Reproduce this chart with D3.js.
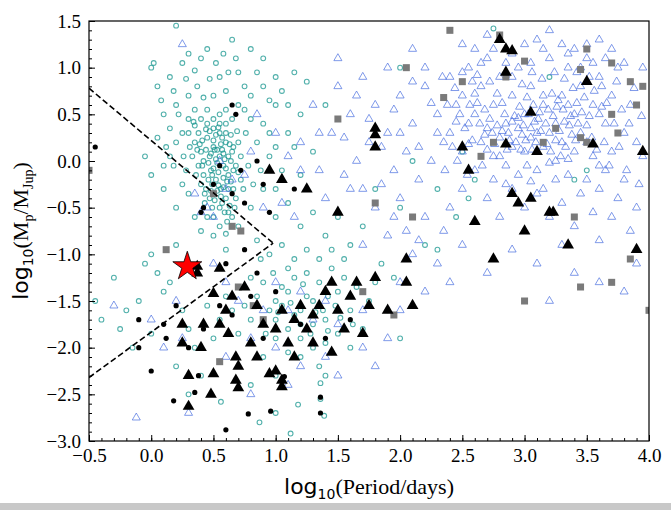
<!DOCTYPE html>
<html><head><meta charset="utf-8">
<script src="https://cdn.jsdelivr.net/npm/d3@7"></script>
<style>body{margin:0;background:#fff}</style></head>
<body><svg id="c" width="671" height="510"></svg>
<script>
const xTicks=[-0.5,0,0.5,1,1.5,2,2.5,3,3.5,4];
const yTicks=[-3,-2.5,-2,-1.5,-1,-0.5,0,0.5,1,1.5];
const tealCircles=[[0.3,0.3],[0.35,0.2],[0.4,0.1],[0.45,0.25],[0.5,0.15],[0.55,0.05],[0.6,0.2],[0.38,-0.05],[0.42,-0.15],[0.48,-0.1],[0.52,-0.2],[0.58,-0.05],[0.62,-0.15],[0.33,0.05],[0.28,-0.1],[0.45,0.4],[0.5,0.35],[0.55,0.3],[0.4,0.45],[0.35,0.38],[0.6,0.4],[0.65,0.1],[0.68,-0.05],[0.44,-0.3],[0.5,-0.35],[0.56,-0.3],[0.6,-0.4],[0.47,0.05],[0.53,-0.02],[0.41,0.22],[0.37,0.12],[0.31,0.15],[0.26,0.05],[0.64,0.28],[0.57,0.12],[0.49,-0.25],[0.43,-0.45],[0.55,-0.5],[0.62,-0.55],[0.7,0.2],[0.72,-0.2],[0.66,-0.3],
[0.0,1.0],[0.02,1.05],[0.2,1.45],[0.3,1.15],[0.4,1.1],[0.28,0.88],[0.35,0.97],[0.37,0.8],[0.47,0.88],[0.55,0.9],[0.6,0.75],[0.7,0.95],[0.8,0.7],[0.9,0.8],[1.0,0.6],[0.75,0.55],[0.2,0.6],[0.1,0.5],[0.15,0.35],[0.22,0.5],[0.05,0.25],[0.12,0.15],[0.18,-0.05],[0.9,0.4],[1.1,0.3],[1.2,0.5],[0.85,0.2],[0.95,0.05],[1.05,-0.1],[1.3,0.1],[0.8,1.2],[0.65,1.3],[0.9,1.1],[1.0,0.9],[1.4,0.6],[1.25,0.85],
[0.7,-0.7],[0.8,-0.5],[0.9,-0.3],[1.0,-0.6],[1.1,-0.45],[1.2,-0.7],[1.3,-0.55],[0.85,-0.85],[0.95,-1.0],[1.05,-0.9],[1.15,-1.05],[1.4,-0.8],[1.5,-0.6],[1.6,-0.9],[1.7,-0.7],[0.6,-0.95],[0.5,-0.8],[0.4,-0.75],[0.35,-0.6],[0.2,-0.9],[0.0,-1.0],[0.05,-1.2],[0.1,-1.4],[0.15,-1.3],
[0.9,-1.3],[1.0,-1.5],[1.1,-1.4],[1.2,-1.6],[1.3,-1.5],[1.4,-1.7],[1.5,-1.4],[1.6,-1.6],[1.0,-1.7],[1.1,-1.8],[1.2,-1.9],[1.3,-1.75],[1.4,-1.95],[1.5,-1.85],[1.55,-1.25],[1.45,-1.15],[1.35,-1.3],[1.25,-1.2],[1.15,-1.25],[1.05,-1.35],[0.95,-1.6],[0.85,-1.45],[0.8,-1.7],[0.75,-1.55],[0.7,-1.85],[0.65,-1.6],[0.6,-1.45],[0.55,-1.7],[0.5,-1.9],[0.45,-1.55],[1.3,-2.0],[1.2,-2.1],[1.35,-2.2],[1.4,-2.3],[1.45,-2.05],[1.6,-2.0],[1.7,-1.8],[1.75,-1.5],[1.8,-1.3],[1.65,-1.35],[1.9,-1.6],[2.0,-1.9],[1.85,-1.1],[1.95,-1.25],[1.15,-1.65],[1.25,-1.45],[1.05,-1.55],[1.38,-1.6],[1.48,-1.55],[1.28,-1.85],
[-0.45,-1.5],[-0.4,-1.7],[-0.2,-1.6],[-0.25,-1.8],[-0.1,-1.5],[-0.15,-2.0],[0.0,-1.85],[-0.3,-1.25],[-0.05,-1.1],[0.25,-1.6],[0.3,-1.8],[0.35,-2.0],[0.2,-2.2],[0.4,-2.3],[0.3,-2.5],[0.56,-2.58],[0.87,-2.8],[1.0,-2.7],[1.12,-2.92],[1.18,-2.61],[1.36,-2.38],[1.36,-2.55],[1.39,-2.73],[0.8,-2.4],[0.9,-2.1],[1.0,-2.3],
[1.8,-0.3],[2.0,-0.5],[2.1,0.0],[2.2,-0.9],[2.3,-0.3],[2.5,0.1],[2.75,1.42],[2.0,1.0],[3.2,0.9],[3.4,-0.2],[3.5,-0.1],[2.6,-0.2],[2.45,-0.6],[2.3,-0.95],[2.55,-0.4]];
const tealCore=[[0.46,-0.02],[0.48,0.08],[0.5,-0.08],[0.52,0.02],[0.54,-0.12],[0.56,0.18],[0.58,-0.18],[0.6,-0.08],[0.62,0.05],[0.64,-0.22],[0.66,-0.1],[0.44,0.12],[0.46,-0.2],[0.48,-0.32],[0.5,0.22],[0.52,0.28],[0.54,-0.26],[0.56,-0.38],[0.58,0.08],[0.6,0.3],[0.62,-0.3],[0.64,0.0],[0.66,0.15],[0.68,-0.4],[0.7,-0.12],[0.42,0.0],[0.4,-0.25],[0.38,0.3],[0.36,-0.15],[0.34,0.42],[0.5,0.45],[0.55,0.4],[0.47,0.32],[0.53,0.12],[0.57,-0.45],[0.59,-0.55],[0.61,-0.65],[0.63,-0.48],[0.65,-0.6],[0.51,-0.42],[0.49,-0.5],[0.45,-0.6],[0.43,-0.35],[0.41,-0.05],[0.39,0.18],[0.55,0.5],[0.6,0.55],[0.45,0.55],[0.35,0.55],[0.3,0.45],[0.25,0.3],[0.2,0.2],[0.15,0.05],[0.1,-0.05],[0.25,-0.25],[0.3,-0.35],[0.72,0.05],[0.74,-0.3],[0.76,0.3],[0.78,-0.05],[0.8,0.45],[0.82,-0.25],[0.7,0.6],[0.65,0.45],[0.57,0.25],[0.53,-0.32],[0.47,-0.4],[0.59,0.02],[0.61,-0.22],[0.63,0.18],[0.51,0.12],[0.49,-0.15],[0.67,-0.5],[0.69,0.32],[0.44,0.34],[0.58,-0.28],[0.54,0.36],[0.5,-0.6],[0.55,-0.7],[0.6,-0.78]];
const tealUpper=[[0.05,0.8],[0.15,0.9],[0.25,1.05],[0.45,1.2],[0.52,1.05],[0.58,1.15],[0.62,0.95],[0.68,1.1],[0.75,0.8],[0.85,0.95],[0.95,0.65],[1.05,0.75],[1.15,0.95],[1.1,0.6],[0.42,0.68],[0.5,0.7],[0.3,0.7],[0.18,0.75],[0.08,0.65],[0.95,0.3],[1.0,0.15],[1.15,0.15],[0.88,-0.1],[1.0,-0.3],[1.2,-0.15],[0.1,-0.3],[0.0,-0.15],[-0.05,0.05],[0.2,-0.5],[1.25,-0.95],[1.35,-1.05],[1.45,-0.95],[1.55,-1.05],[1.1,-1.15],[0.98,-1.2],[0.88,-1.05],[0.8,-1.25],[1.0,-1.9],[1.1,-2.05],[1.2,-1.75],[1.32,-1.62],[1.42,-1.82],[1.52,-1.68],[1.62,-1.75],[1.02,-1.62],[1.12,-1.52],[1.22,-1.32],[1.42,-1.45],[0.92,-1.85]];
const blueTriangles=[[2.4,0.9],[2.5,0.7],[2.55,1.0],[2.6,0.5],[2.65,0.8],[2.7,1.1],[2.75,0.6],[2.8,0.9],[2.85,0.4],[2.9,0.7],[2.95,1.0],[3.0,0.5],[3.05,0.8],[3.1,0.3],[3.15,0.6],[3.2,1.1],[3.25,0.4],[3.3,0.7],[3.35,1.0],[3.4,0.5],[3.45,0.8],[3.5,0.2],[3.55,0.6],[3.6,0.9],[3.65,0.4],[3.7,0.7],[3.75,1.0],[3.8,0.3],[3.85,0.6],[3.9,0.2],
[2.4,0.3],[2.5,0.1],[2.55,0.4],[2.6,-0.1],[2.65,0.2],[2.7,0.35],[2.75,0.05],[2.8,0.25],[2.85,-0.05],[2.9,0.15],[2.95,0.35],[3.0,0.1],[3.05,0.25],[3.1,-0.1],[3.15,0.15],[3.2,0.3],[3.25,0.0],[3.3,0.2],[3.35,-0.15],[3.4,0.1],[3.45,0.3],[3.5,-0.2],[3.55,0.05],[3.6,-0.3],[3.65,-0.1],[3.7,0.1],[3.75,-0.4],[3.8,-0.2],
[2.45,0.6],[2.58,0.85],[2.72,0.45],[2.82,0.62],[2.92,0.48],[3.02,0.68],[3.12,0.52],[3.22,0.72],[3.32,0.42],[3.42,0.62],[3.52,0.48],[3.62,0.58],[2.68,0.28],[2.78,0.38],[2.88,0.22],[2.98,0.28],[3.08,0.42],[3.18,0.18],[3.28,0.32],[3.38,0.28],[2.62,0.62],[2.96,0.58],[3.06,0.12],[2.86,0.12],[2.76,0.18],[3.26,0.58],[3.36,0.38],[3.46,0.52],
[2.5,1.25],[2.6,1.2],[2.7,1.35],[2.8,1.3],[2.9,1.15],[3.0,1.25],[3.1,1.3],[3.2,1.4],[3.3,1.25],[3.4,1.2],[3.5,1.1],[3.6,1.3],[3.7,1.2],[3.8,1.05],[3.95,1.0],[2.65,1.05],[3.05,1.05],[3.45,1.0],
[2.5,-0.3],[2.7,-0.4],[2.9,-0.3],[3.0,-0.5],[3.1,-0.35],[3.2,-0.6],[3.3,-0.45],[3.4,-0.7],[3.55,-0.55],[3.7,-0.6],[3.85,-0.75],[2.8,-0.6],[3.6,-0.85],[3.9,-0.5],[3.95,0.05],
[1.5,0.8],[1.6,0.5],[1.7,0.9],[1.8,0.6],[1.9,0.3],[2.0,0.7],[2.1,0.4],[2.2,0.8],[2.3,0.5],[2.2,1.0],[2.1,1.2],[1.9,1.0],[2.35,0.2],[2.25,0.0],[2.15,-0.2],[2.05,0.1],[1.95,-0.1],[1.85,0.15],[1.75,0.2],[1.65,0.0],[1.55,0.25],[1.45,0.3],[1.35,-0.1],[1.25,-0.3],[1.4,-0.4],[1.6,-0.3],[1.8,-0.5],[2.0,-0.4],[2.2,-0.6],[2.4,-0.5],[1.7,-0.9],[1.9,-0.8],[2.1,-1.0],[2.3,-1.1],[2.5,-0.9],[2.0,-1.3],[2.2,-1.4],[2.4,-1.3],[1.5,1.1],[1.3,0.6],[1.2,0.2],[1.1,0.05],
[0.7,-1.5],[0.9,-1.6],[1.0,-1.3],[1.1,-1.6],[1.2,-1.4],[1.3,-1.7],[1.4,-1.5],[1.5,-1.75],[1.6,-1.45],[1.7,-1.6],[0.8,-1.9],[1.0,-2.0],[1.2,-2.2],[1.4,-2.1],[1.5,-2.3],[1.7,-2.0],[1.8,-2.2],[1.9,-1.9],[2.0,-1.6],[0.6,-1.3],[0.5,-1.1],[0.45,-0.5],[0.5,-0.6],[0.35,-0.35],[0.4,-0.55],[0.6,-0.3],[0.2,-1.5],[0.25,-1.9],[0.1,-2.0],[-0.12,-2.75],[0.3,-2.7],[0.0,-1.7],[-0.3,-1.55],[0.6,-2.1],[0.8,-2.5],[1.1,-2.4],[0.75,-0.15],[0.8,0.1],[0.25,1.25],[0.9,-0.5],[0.55,0.0],[0.65,-0.2],
[3.2,-1.5],[3.4,-1.2],[3.1,-1.1],[3.6,-1.3],[3.8,-1.4],[3.3,-0.9],[2.7,-1.2],[3.9,-1.1],[2.9,-0.95]];
const blueCore=[[2.82,0.32],[2.84,0.5],[2.87,0.3],[2.9,0.42],[2.93,0.2],[2.95,0.46],[2.97,0.12],[2.99,0.38],[3.01,0.22],[3.03,0.5],[3.05,0.35],[3.07,0.6],[3.09,0.2],[3.11,0.45],[3.13,0.32],[3.15,0.7],[3.17,0.4],[3.19,0.55],[3.21,0.1],[3.23,0.48],[3.25,0.22],[3.27,0.65],[3.29,0.05],[3.31,0.55],[3.33,0.15],[3.35,0.6],[3.37,0.48],[3.39,0.78],[3.41,0.22],[3.43,0.4],[2.8,0.05],[2.78,0.72],[2.74,0.3],[2.72,0.85],[2.7,0.12],[2.68,0.55],[2.66,-0.05],[2.64,0.4],[2.62,0.92],[2.58,0.22],[2.56,0.6],[2.54,-0.15],[2.52,0.35],[2.48,0.5],[2.46,0.0],[2.44,0.78],[2.42,0.15],[2.38,0.6],[2.36,-0.1],[2.34,0.9],[3.48,0.68],[3.5,0.38],[3.52,0.9],[3.54,0.25],[3.56,0.75],[3.58,0.12],[3.6,0.5],[3.62,0.8],[3.64,0.2],[3.66,0.62],[3.68,-0.05],[3.72,0.4],[3.74,0.85],[3.76,0.15],[3.78,0.55],[3.82,-0.1],[3.84,0.4],[3.88,0.78],[3.92,-0.25],[3.94,0.48],[2.9,0.9],[2.98,0.82],[3.06,0.95],[3.14,0.88],[3.24,0.95],[3.32,0.88],[3.42,0.95],[3.5,1.25],[2.85,1.05],[2.75,1.2],[3.15,1.2],[3.35,1.15],[3.55,1.05],[3.65,1.1],[2.95,-0.15],[3.05,-0.22],[3.15,-0.3],[3.25,-0.2],[3.45,-0.35],[3.6,-0.05],[2.75,-0.2],[2.85,-0.25],[3.02,-0.05],[3.2,-0.02],[3.35,0.02],[2.6,0.72],[2.55,0.18],[2.5,0.95],[2.45,0.42],[2.3,0.3],[2.25,0.62],[2.15,0.15],[2.1,0.85],[2.0,0.3],[1.95,0.55],[1.85,-0.25],[1.75,0.45],[1.7,-0.3],[1.65,0.7],[1.55,-0.15],[2.05,-0.75],[2.15,-0.85],[2.35,-0.75],[1.95,-0.6],[1.35,0.3],[1.2,-0.1],[1.0,0.3],[0.85,0.5],[1.05,-0.45],[1.15,-0.6]];
const blackTriangles=[[0.37,-1.13],[0.37,-1.2],[0.55,-1.15],[0.6,-1.6],[0.65,-1.45],[0.55,-1.75],[0.62,-1.85],[0.75,-1.35],[0.25,-1.75],[0.25,-1.95],[0.42,-1.75],[0.5,-1.42],[0.68,-2.1],[0.85,-1.55],[0.9,-1.75],[0.8,-1.95],[1.0,-1.8],[1.05,-1.6],[1.1,-1.95],[1.15,-1.7],[1.2,-1.55],[1.25,-1.8],[1.3,-1.65],[1.35,-1.55],[1.4,-1.4],[1.45,-1.3],[1.5,-1.6],[1.55,-1.8],[1.6,-1.45],[1.65,-1.3],[1.7,-1.85],[1.75,-1.55],[1.8,-1.25],[1.9,-1.6],[2.05,-1.3],[2.1,-1.55],[2.05,-1.05],[1.8,0.35],[1.8,0.28],[1.8,0.15],[1.5,-0.55],[1.25,-0.3],[1.05,-0.2],[0.95,-0.1],[0.7,-2.2],[0.68,-2.35],[0.7,-2.43],[0.5,-2.28],[0.48,-2.5],[0.3,-2.63],[0.95,-2.28],[1.0,-2.25],[1.05,-2.35],[1.05,-2.42],[0.3,-2.3],[0.4,-2.0],[0.85,-2.1],[1.15,-2.1],[1.3,-1.95],[1.45,-2.05],
[2.8,1.3],[2.85,1.2],[2.9,1.18],[2.85,0.95],[3.05,0.52],[2.85,0.18],[3.55,0.18],[2.5,0.15],[2.9,-0.35],[2.95,-0.45],[3.05,-0.4],[3.2,-0.55],[3.23,-0.55],[3.0,-0.75],[3.35,-0.9],[3.9,-0.95],[3.95,0.1],[2.55,-0.1],[2.6,-0.65],[3.1,0.1],[3.5,0.85],[2.75,-1.05]];
const blackDots=[[-0.45,0.15],[0.4,-0.55],[0.42,-0.5],[0.55,-0.05],[0.65,0.6],[0.68,0.5],[0.65,-0.35],[0.95,-0.55],[0.72,-0.1],[0.75,-0.45],[0.85,0.0],[0.5,-0.25],[0.6,-1.1],[0.85,-1.2],[0.65,-1.65],[0.55,-1.55],[0.42,-1.8],[0.3,-2.0],[0.1,-1.75],[0.12,-1.9],[0.0,-2.25],[-0.1,-2.0],[0.18,-2.57],[0.35,-2.48],[0.38,-2.3],[0.6,-2.88],[0.78,-2.71],[0.96,-2.68],[1.07,-2.31],[1.36,-2.53],[1.36,-2.7],[0.2,-1.55],[0.8,-1.45],[1.2,-1.75],[1.4,-1.9],[1.6,-1.7],[1.0,-1.4],[0.9,-1.9],[-0.1,-1.7],[0.75,-0.95],[1.15,-0.3],[0.9,-0.25]];
const graySquares=[[-0.5,-0.1],[0.12,-0.95],[0.5,-0.35],[0.65,-0.7],[0.72,-0.75],[0.7,-1.35],[0.82,-1.55],[0.9,-1.7],[0.55,-2.15],[1.7,-1.4],[1.95,-1.65],[2.1,-0.6],[1.8,-0.45],[1.5,0.45],[2.4,1.4],[2.5,0.85],[2.35,0.68],[2.85,0.9],[2.8,1.35],[3.0,1.07],[3.5,1.2],[3.45,0.98],[3.7,1.05],[3.95,0.8],[3.85,0.85],[3.9,0.6],[3.75,0.3],[3.7,0.5],[3.5,0.2],[3.45,0.25],[3.25,0.35],[3.15,0.2],[2.75,0.2],[2.65,0.05],[3.4,-0.6],[3.45,-1.35],[3.7,-1.3],[3.85,-1.05],[3.0,-1.5],[2.05,1.0],[4.0,-1.6]];
const star=[[0.29,-1.13]];
const dashUpper=[[-0.5,0.78],[0.98,-0.88]];
const dashLower=[[-0.5,-2.32],[0.98,-0.88]];

const svg=d3.select('#c');
const L=89,R=649,T=21,B=441;
const x=d3.scaleLinear().domain([-0.5,4]).range([L,R]);
const y=d3.scaleLinear().domain([-3,1.5]).range([B,T]);
const g=svg.append('g');
g.append('defs').append('clipPath').attr('id','cl').append('rect').attr('x',L).attr('y',T).attr('width',R-L).attr('height',B-T);
const p=g.append('g').attr('clip-path','url(#cl)');
const tri=d3.symbol().type(d3.symbolTriangle);
p.selectAll('.tc').data(tealCircles.concat(tealCore,tealUpper)).join('circle').attr('cx',d=>x(d[0])).attr('cy',d=>y(d[1])).attr('r',2.4)
 .attr('fill','none').attr('stroke','#17968f').attr('stroke-opacity',0.75).attr('stroke-width',1.1);
p.selectAll('.bt').data(blueTriangles.concat(blueCore)).join('path').attr('d',tri.size(28)())
 .attr('transform',d=>`translate(${x(d[0])},${y(d[1])})`).attr('fill','none').attr('stroke','#4a6fe0').attr('stroke-opacity',0.7).attr('stroke-width',1);
p.selectAll('.gs').data(graySquares).join('rect').attr('x',d=>x(d[0])-3.5).attr('y',d=>y(d[1])-3.5).attr('width',7).attr('height',7).attr('fill','#7a7a7a');
p.selectAll('.kt').data(blackTriangles).join('path').attr('d',tri.size(60)())
 .attr('transform',d=>`translate(${x(d[0])},${y(d[1])})`).attr('fill','#000');
p.selectAll('.kd').data(blackDots).join('circle').attr('cx',d=>x(d[0])).attr('cy',d=>y(d[1])).attr('r',2.6).attr('fill','#000');
const ln=d3.line().x(d=>x(d[0])).y(d=>y(d[1]));
[dashUpper,dashLower].forEach(dl=>p.append('path').attr('d',ln(dl)).attr('fill','none').attr('stroke','#000').attr('stroke-width',1.6).attr('stroke-dasharray','6,3'));
p.selectAll('.st').data(star).join('path').attr('d',d3.symbol().type(d3.symbolStar).size(260)())
 .attr('transform',d=>`translate(${x(d[0])},${y(d[1])})`).attr('fill','#ff0000').attr('stroke','#000').attr('stroke-width',0.8);

g.append('rect').attr('x',L).attr('y',T).attr('width',R-L).attr('height',B-T).attr('fill','none').attr('stroke','#000').attr('stroke-width',1.2);
const font='Liberation Serif, Times New Roman, serif';
const xa=g.append('g').attr('transform',`translate(0,${B})`).call(d3.axisBottom(x).tickValues(xTicks).tickSize(-6).tickPadding(8).tickFormat(d=>d3.format('.1f')(d).replace('-','\u2212')));
const xm=g.append('g').attr('transform',`translate(0,${B})`).call(d3.axisBottom(x).tickValues(d3.range(-0.5,4.001,0.1)).tickSize(-3).tickFormat(''));
const ya=g.append('g').attr('transform',`translate(${L},0)`).call(d3.axisLeft(y).tickValues(yTicks).tickSize(-6).tickPadding(8).tickFormat(d=>d3.format('.1f')(d).replace('-','\u2212')));
const ym=g.append('g').attr('transform',`translate(${L},0)`).call(d3.axisLeft(y).tickValues(d3.range(-3,1.501,0.1)).tickSize(-3).tickFormat(''));
[xa,xm,ya,ym].forEach(a=>{a.select('.domain').remove();a.selectAll('text').attr('font-family',font).attr('font-size',19).attr('fill','#000');});
const sans='DejaVu Sans, sans-serif';
const xl=svg.append('text').attr('x',(L+R)/2).attr('y',494).attr('text-anchor','middle').attr('font-size',22).attr('font-family',font);
xl.append('tspan').attr('font-family',sans).text('log');
xl.append('tspan').attr('font-family',sans).attr('font-size',14).attr('dy',5).text('10');
xl.append('tspan').attr('dy',-5).text('(Period/days)');
const yl=svg.append('text').attr('transform',`translate(28,${(T+B)/2}) rotate(-90)`).attr('text-anchor','middle').attr('font-size',22).attr('font-family',font);
yl.append('tspan').attr('font-family',sans).text('log');
yl.append('tspan').attr('font-family',sans).attr('font-size',14).attr('dy',5).text('10');
yl.append('tspan').attr('dy',-5).text('(M');
yl.append('tspan').attr('font-size',14).attr('dy',5).text('p');
yl.append('tspan').attr('dy',-5).text('/M');
yl.append('tspan').attr('font-size',14).attr('dy',5).text('Jup');
yl.append('tspan').attr('dy',-5).text(')');
svg.append('rect').attr('x',0).attr('y',503).attr('width',671).attr('height',7).attr('fill','#c8c8c8');
</script></body></html>
